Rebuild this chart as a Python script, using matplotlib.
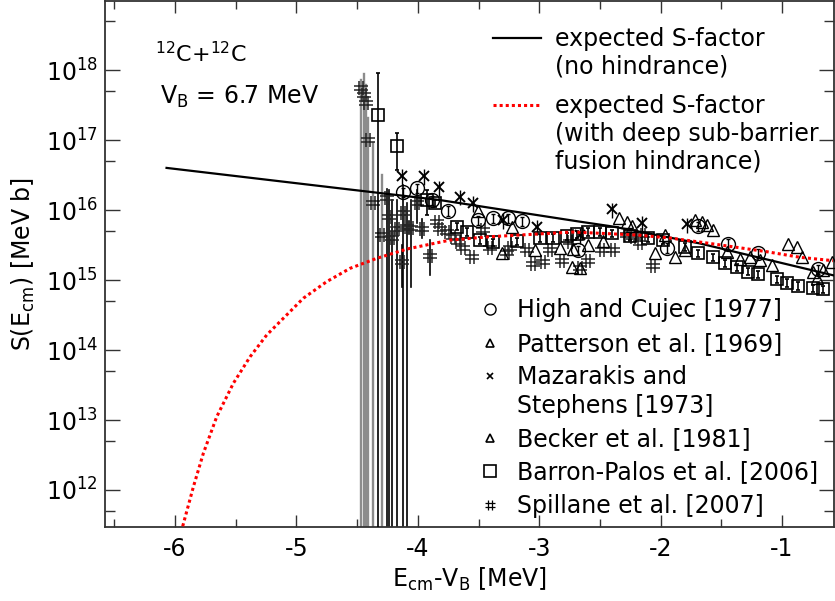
import matplotlib
matplotlib.use("Agg")
import matplotlib.pyplot as plt
from matplotlib.lines import Line2D
from matplotlib.path import Path
from matplotlib.ticker import LogLocator, MultipleLocator, NullFormatter

plt.rcParams["axes.unicode_minus"] = False
plt.rcParams["font.family"] = "DejaVu Sans"

# expected S-factor, no hindrance (E_cm - V_B [MeV], S [MeV b])
e_nohind = [-6.07, -4.64, -3.82, -2.66, -2.39, -1.68, -0.58]
s_nohind = [4.0e16, 2.04e16, 1.39e16, 6.8e15, 5.8e15, 3.34e15, 1.17e15]

# expected S-factor with deep sub-barrier fusion hindrance
e_hind = [-5.95, -5.849, -5.767, -5.657, -5.520, -5.382, -5.245, -5.108, -4.943, -4.750, -4.558,
          -4.339, -4.091, -3.735, -3.405, -2.722, -2.197, -1.922, -1.620, -1.126, -0.850, -0.58]
s_hind = [2.5e11, 1.11e12, 3.34e12, 1.11e13, 3.34e13, 8.0e13, 1.64e14, 2.84e14, 5.5e14, 9.5e14, 1.47e15,
          2.04e15, 2.77e15, 3.72e15, 4.16e15, 4.85e15, 4.40e15, 3.98e15, 3.38e15, 2.54e15, 2.11e15, 1.89e15]

# High and Cujec [1977]
e_hc = [-4.119, -4.009, -3.885, -3.754, -3.502, -3.378, -3.255, -3.144, -2.680, -1.950, -1.692, -1.445, -1.198, -0.703]
s_hc = [1.82e16, 2.04e16, 1.39e16, 9.8e15, 7.2e15, 7.6e15, 7.6e15, 7.0e15, 2.7e15, 2.9e15, 5.9e15, 3.3e15, 2.4e15, 1.44e15]
hc_rel_err = 0.15

# Patterson et al. [1969]
e_pa = [-2.340, -2.279, -2.235, -1.717, -1.661, -1.620, -1.566, -0.948, -0.879, -0.591]
s_pa = [7.6e15, 6.8e15, 5.9e15, 7.2e15, 6.8e15, 6.1e15, 5.2e15, 3.3e15, 3.0e15, 1.82e15]

# Mazarakis and Stephens [1973]
e_mz = [-4.133, -3.946, -3.825, -3.652, -3.543, -3.296, -3.021, -2.664, -2.403, -2.156, -1.785]
s_mz = [3.06e16, 3.06e16, 2.1e16, 1.55e16, 1.27e16, 7.2e15, 5.8e15, 4.4e15, 1.02e16, 6.5e15, 6.25e15]
mz_rel_err = 0.25

# Becker et al. [1981]
e_be = [-3.502, -3.309, -3.226, -3.035, -2.829, -2.732, -2.719, -2.664, -2.596, -2.472, -2.046, -1.964,
        -1.882, -1.799, -1.455, -1.346, -1.264, -1.181, -1.085, -0.838, -0.742, -0.714, -0.660]
s_be = [9.7e15, 2.4e15, 5.8e15, 2.7e15, 2.9e15, 1.55e15, 2.8e15, 1.47e15, 3.2e15, 3.6e15, 2.4e15, 4.4e15,
        2.15e15, 2.7e15, 2.5e15, 2.0e15, 2.1e15, 1.93e15, 1.64e15, 2.15e15, 1.32e15, 1.06e15, 1.39e15]

# Barron-Palos et al. [2006]
e_bp = [-4.328, -4.174, -3.927, -3.858, -3.680, -3.597, -3.488, -3.381, -3.185, -2.993, -2.886, -2.773,
        -2.689, -2.598, -2.499, -2.403, -2.252, -2.104, -1.980, -1.799, -1.692, -1.568, -1.470, -1.371,
        -1.280, -1.198, -1.044, -0.959, -0.869, -0.747, -0.665]
s_bp = [2.28e17, 8.2e16, 1.39e16, 1.26e16, 5.8e15, 4.9e15, 3.7e15, 3.5e15, 3.6e15, 4.0e15, 4.0e15, 4.2e15,
        4.5e15, 4.9e15, 4.9e15, 4.7e15, 4.25e15, 4.0e15, 3.7e15, 3.0e15, 2.4e15, 2.1e15, 1.75e15, 1.53e15,
        1.32e15, 1.22e15, 1.03e15, 9.1e14, 8.3e14, 7.7e14, 7.4e14]
# error bars of the first points (lower / upper bounds), then a relative error
bp_lo = [1e10, 3.7e16, 8.5e15]
bp_hi = [9.1e17, 1.26e17, 1.93e16]
bp_rel_err = 0.12

# Spillane et al. [2007]
e_sp = [-4.468, -4.443, -4.427, -4.410, -4.369, -4.297, -4.256, -4.237, -4.213, -4.171, -4.133, -4.122,
        -4.089, -4.056, -4.009, -3.968, -3.900, -3.842, -3.817, -3.762, -3.708, -3.666, -3.625, -3.556,
        -3.460, -3.405, -3.268, -3.241, -3.103, -3.049, -2.966, -2.911, -2.815, -2.746, -2.664, -2.596,
        -2.485, -2.390, -2.279, -2.225, -2.170, -2.142, -2.060]
s_sp = [5.53e17, 4.40e17, 3.38e17, 1.0e17, 1.26e16, 4.4e15, 1.48e16, 7.9e15, 4.0e15, 5.4e15, 1.8e15, 9.1e15,
        5.7e15, 5.5e15, 1.26e16, 5.4e15, 2.2e15, 6.7e15, 5.4e15, 4.85e15, 4.1e15, 3.5e15, 2.9e15, 2.1e15,
        5.2e15, 2.9e15, 2.4e15, 2.9e15, 2.7e15, 1.7e15, 1.8e15, 2.7e15, 1.9e15, 3.5e15, 1.5e15, 1.9e15,
        2.7e15, 2.7e15, 4.4e15, 4.1e15, 3.4e15, 4.4e15, 1.6e15]
# error bars of the lowest-energy points (lower / upper bounds)
sp_lo = [1e10, 1e10, 1e10, 1e10, 1e10, 1e10, 1e10, 1e10, 1e10, 1e10, 7.9e14, 1e10,
         1e10, 7.9e14, 6.5e15, 4.0e15, 1.18e15]
sp_hi = [7.2e17, 8.8e17, 6.1e17, 2.06e17, 9.1e16, 3.2e16, 2.0e16, 1.93e16, 1.39e16, 1.39e16, 3.2e15, 2.28e16,
         1.26e16, 1.39e16, 1.93e16, 7.5e15, 3.7e15]

FS = 17

# '#' shaped marker
hash_marker = Path(
    [(-0.35, -1), (-0.35, 1), (0.35, -1), (0.35, 1), (-1, -0.35), (1, -0.35), (-1, 0.35), (1, 0.35)],
    [Path.MOVETO, Path.LINETO] * 4,
)

fig = plt.figure(figsize=(8.35, 6.01), dpi=100)
ax = fig.add_axes([105 / 835, 74 / 601, 729 / 835, 526 / 601])

# Spillane error bars: grey for the lowest energies, black otherwise
for i in range(len(sp_hi)):
    grey = e_sp[i] < -4.28
    ax.plot([e_sp[i], e_sp[i]], [sp_lo[i], sp_hi[i]], color="#8c8c8c" if grey else "black",
            lw=1.7 if grey else 1.2, zorder=1)

ax.plot(e_sp, s_sp, linestyle="none", marker=hash_marker, ms=10, mfc="none", mec="#262626", mew=1.1, zorder=2)

bp_err_lo = [s - lo for s, lo in zip(s_bp[:3], bp_lo)] + [s * bp_rel_err for s in s_bp[3:]]
bp_err_hi = [hi - s for s, hi in zip(s_bp[:3], bp_hi)] + [s * bp_rel_err for s in s_bp[3:]]
ax.errorbar(e_bp, s_bp, yerr=[bp_err_lo, bp_err_hi], fmt="s", ms=9, mfc="none", mec="black", mew=1.2,
            ecolor="black", elinewidth=1.2, capsize=1.5, zorder=3)

ax.plot(e_be, s_be, linestyle="none", marker="^", ms=9, mfc="none", mec="black", mew=1.0, zorder=3)
ax.plot(e_pa, s_pa, linestyle="none", marker="^", ms=9, mfc="none", mec="black", mew=1.0, zorder=3)

ax.errorbar(e_mz, s_mz, yerr=[[s * mz_rel_err for s in s_mz], [s * mz_rel_err for s in s_mz]], fmt="x",
            ms=7, mec="black", mew=1.4, ecolor="black", elinewidth=1.0, zorder=3)

ax.errorbar(e_hc, s_hc, yerr=[[s * hc_rel_err for s in s_hc], [s * hc_rel_err for s in s_hc]], fmt="o",
            ms=10, mfc="none", mec="black", mew=1.0, ecolor="black", elinewidth=1.0, capsize=1.5, zorder=3)

ax.plot(e_nohind, s_nohind, color="black", lw=1.6, zorder=5)
ax.plot(e_hind, s_hind, color="red", lw=2.2, linestyle=(0, (1.0, 1.0)), zorder=5)

ax.set_yscale("log")
ax.set_xlim(-6.577, -0.572)
ax.set_ylim(2.96e11, 9.7e18)
ax.yaxis.set_major_locator(LogLocator(base=10, numticks=20))
ax.yaxis.set_minor_locator(LogLocator(base=10, subs=[5.0], numticks=20))
ax.yaxis.set_minor_formatter(NullFormatter())
ax.xaxis.set_major_locator(MultipleLocator(1))
ax.xaxis.set_minor_locator(MultipleLocator(0.5))
ax.tick_params(which="both", direction="in", top=True, right=True, labelsize=FS, color="#333333", width=1)
ax.tick_params(axis="y", which="major", length=10.8, pad=5)
ax.tick_params(axis="y", which="minor", length=7.2)
ax.tick_params(axis="x", which="major", length=8.6, pad=7)
ax.tick_params(axis="x", which="minor", length=5.8)
for sp in ax.spines.values():
    sp.set_color("#333333")
    sp.set_linewidth(1.3)

ax.set_xlabel("E$_{\\rm cm}$-V$_{\\rm B}$ [MeV]", fontsize=FS, labelpad=4)
ax.set_ylabel("S(E$_{\\rm cm}$) [MeV b]", fontsize=FS, labelpad=6)

ax.text(0.0686, 0.884, "$^{12}$C+$^{12}$C", transform=ax.transAxes, fontsize=16, va="baseline")
ax.text(0.0754, 0.804, "V$_{\\rm B}$ = 6.7 MeV", transform=ax.transAxes, fontsize=FS, va="baseline")

blank = Line2D([], [], linestyle="none")
h_black = Line2D([], [], color="black", lw=1.6)
h_red = Line2D([], [], color="red", lw=2.2, linestyle=(0, (1.0, 1.0)))

common = dict(loc="upper left", bbox_transform=fig.transFigure, frameon=False, borderpad=0,
              borderaxespad=0, fontsize=FS)
leg_a = ax.legend([h_black, blank], ["expected S-factor", "(no hindrance)"],
                  bbox_to_anchor=(493 / 835, 1 - 26.8 / 601), handlelength=2.04, handletextpad=0.58,
                  labelspacing=0.17, **common)
ax.add_artist(leg_a)
leg_b = ax.legend([h_red, blank, blank], ["expected S-factor", "(with deep sub-barrier", "fusion hindrance)"],
                  bbox_to_anchor=(493 / 835, 1 - 93.8 / 601), handlelength=2.04, handletextpad=0.58,
                  labelspacing=0.17, **common)
ax.add_artist(leg_b)

h_hc = Line2D([], [], linestyle="none", marker="o", ms=8, mfc="none", mec="black", mew=1.0)
h_pa = Line2D([], [], linestyle="none", marker="^", ms=6, mfc="none", mec="black", mew=1.2)
h_mz = Line2D([], [], linestyle="none", marker="x", ms=5, mec="black", mew=1.2)
h_be = Line2D([], [], linestyle="none", marker="^", ms=6, mfc="none", mec="black", mew=1.2)
h_bp = Line2D([], [], linestyle="none", marker="s", ms=8, mfc="none", mec="black", mew=1.2)
h_sp = Line2D([], [], linestyle="none", marker=hash_marker, ms=7, mfc="none", mec="black", mew=0.9)

leg_c = ax.legend([h_hc, h_pa, h_mz], ["High and Cujec [1977]", "Patterson et al. [1969]", "Mazarakis and"],
                  bbox_to_anchor=(478 / 835, 1 - 298.5 / 601), handlelength=1.0, handletextpad=0.67,
                  labelspacing=0.4, **common)
ax.add_artist(leg_c)
ax.legend([blank, h_be, h_bp, h_sp],
          ["Stephens [1973]", "Becker et al. [1981]", "Barron-Palos et al. [2006]", "Spillane et al. [2007]"],
          bbox_to_anchor=(478 / 835, 1 - 393.5 / 601), handlelength=1.0, handletextpad=0.67,
          labelspacing=0.4, **common)

fig.savefig("out.png", dpi=100)
